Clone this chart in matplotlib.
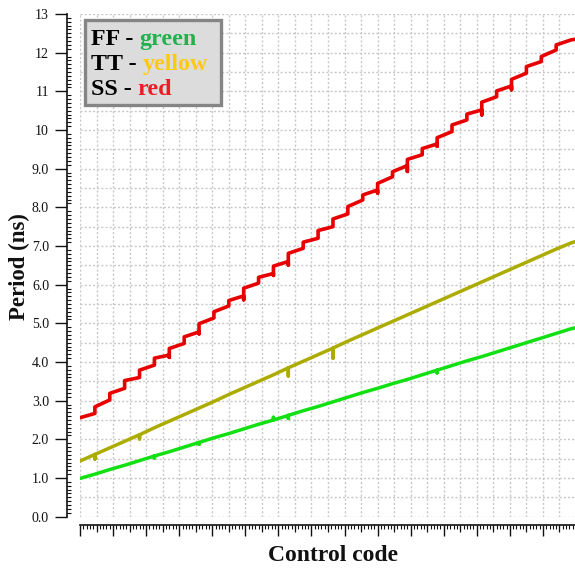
import numpy as np
import matplotlib
matplotlib.use("Agg")
import matplotlib.pyplot as plt
from matplotlib.patches import Rectangle
from matplotlib.ticker import MultipleLocator, FixedLocator, FixedFormatter
from matplotlib.transforms import offset_copy

# ---------------- data ----------------
codes_per_step = 4.5          # control-code width of one coarse step
code_max = 150

# SS (red): value at start / end of each coarse step
red_start = [2.56, 2.84, 3.19, 3.52, 3.79, 4.10, 4.35, 4.65, 4.99, 5.30, 5.59,
             5.91, 6.19, 6.48, 6.81, 7.10, 7.40, 7.70, 8.02, 8.32, 8.62, 8.92,
             9.24, 9.52, 9.80, 10.13, 10.41, 10.72, 11.01, 11.31, 11.64, 11.90, 12.20]
red_end = [2.67, 3.02, 3.32, 3.60, 3.92, 4.18, 4.48, 4.78, 5.14, 5.45, 5.71,
           6.04, 6.29, 6.60, 6.94, 7.20, 7.50, 7.83, 8.19, 8.45, 8.79, 9.08,
           9.36, 9.64, 9.96, 10.26, 10.52, 10.86, 11.14, 11.47, 11.77, 12.07, 12.33]
red_tail = 12.35
red_spikes = {6: 0.06, 8: 0.05, 11: 0.10, 13: 0.05, 14: 0.09, 20: 0.08,
              22: 0.15, 24: 0.06, 27: 0.13, 29: 0.10}

# TT (yellow) values at step boundaries
yellow_vals = [1.44, 1.61, 1.78, 1.95, 2.12, 2.30, 2.47, 2.64, 2.81, 2.98, 3.16,
               3.33, 3.50, 3.67, 3.85, 4.02, 4.19, 4.36, 4.54, 4.71, 4.88, 5.05,
               5.22, 5.39, 5.56, 5.73, 5.90, 6.07, 6.24, 6.41, 6.58, 6.75, 6.92, 7.08]
yellow_tail = 7.12
yellow_spikes = {1: 0.12, 4: 0.11, 14: 0.21, 17: 0.26}

# FF (green) values at step boundaries
green_vals = [0.99, 1.10, 1.22, 1.33, 1.45, 1.57, 1.68, 1.80, 1.92, 2.04, 2.15,
              2.27, 2.39, 2.50, 2.62, 2.74, 2.85, 2.97, 3.09, 3.21, 3.32, 3.44,
              3.55, 3.67, 3.79, 3.91, 4.03, 4.14, 4.26, 4.38, 4.50, 4.62, 4.74, 4.86]
green_tail = 4.89
green_spikes = {5: 0.05, 8: 0.05, 13: -0.07, 14: 0.08, 24: 0.07}

y_tick_values = list(range(14))
y_tick_labels = ["0.0", "1.0", "2.0", "3.0", "4.0", "5.0", "6.0", "7.0",
                 "8.0", "9.0", "10", "11", "12", "13"]

legend_rows = [("FF - ", "green", "#22b14c"),
               ("TT - ", "yellow", "#ffc90e"),
               ("SS - ", "red", "#ed1c24")]

SERIF = "Liberation Serif"


def staircase(starts, ends, tail, spikes):
    xs, ys = [], []
    n = len(starts)
    for k in range(n):
        b0 = k * codes_per_step
        b1 = (k + 1) * codes_per_step
        xs += [b0, b1]
        ys += [starts[k], ends[k]]
        if (k + 1) in spikes and k + 1 < n:
            xs.append(b1)
            ys.append(ends[k] - spikes[k + 1])
    xs.append(code_max)
    ys.append(tail)
    return xs, ys


def smooth(vals, tail, spikes):
    xs, ys = [], []
    for k, v in enumerate(vals):
        b = k * codes_per_step
        xs.append(b)
        ys.append(v)
        if k in spikes:
            xs += [b, b]
            ys += [v - spikes[k], v]
    xs.append(code_max)
    ys.append(tail)
    return xs, ys


# ---------------- figure ----------------
W, H = 575, 569
fig = plt.figure(figsize=(W / 100, H / 100), dpi=100)
ax = fig.add_axes([80 / W, 1 - 516.7 / H, 496 / W, 502.7 / H])
ax.set_xlim(0, code_max)
ax.set_ylim(0, 13)

# grid
ax.vlines(np.arange(0, code_max, 5), 0, 13, colors="#c8c8c8",
          linestyles=(0, (1.5, 1.5)), linewidth=1.0, zorder=0)
ax.hlines(np.arange(0, 13.01, 0.5), 0, code_max, colors="#c8c8c8",
          linestyles=(0, (1.5, 1.5)), linewidth=1.0, zorder=0)

gx, gy = smooth(green_vals, green_tail, green_spikes)
yx, yy = smooth(yellow_vals, yellow_tail, yellow_spikes)
rx, ry = staircase(red_start, red_end, red_tail, red_spikes)
ax.plot(gx, gy, color="#12e012", lw=2.5, zorder=3)
ax.plot(yx, yy, color="#acac00", lw=2.5, zorder=3)
ax.plot(rx, ry, color="#e80000", lw=2.6, zorder=3)

# spines
for s in ("top", "right"):
    ax.spines[s].set_visible(False)
ax.spines["left"].set_position(("outward", 9.4))
ax.spines["bottom"].set_position(("outward", 6.0))
for s in ("left", "bottom"):
    ax.spines[s].set_linewidth(1.2)
    ax.spines[s].set_color("#111111")

# y ticks
ax.yaxis.set_major_locator(FixedLocator(y_tick_values))
ax.yaxis.set_major_formatter(FixedFormatter(y_tick_labels))
ax.yaxis.set_minor_locator(MultipleLocator(0.1))
ax.tick_params(axis="y", which="major", direction="out", length=8.6, width=1.0,
               pad=4.3, labelsize=10, colors="#111111")
ax.tick_params(axis="y", which="minor", direction="in", length=3.2, width=0.8,
               colors="#111111")
for lab in ax.get_yticklabels():
    lab.set_fontfamily(SERIF)

# x ticks (no labels)
ax.xaxis.set_major_locator(MultipleLocator(10))
ax.xaxis.set_minor_locator(MultipleLocator(1))
ax.tick_params(axis="x", which="major", direction="out", length=8.0, width=1.0,
               labelbottom=False, colors="#111111")
ax.tick_params(axis="x", which="minor", direction="out", length=3.0, width=0.8,
               colors="#111111")
sec = ax.secondary_xaxis(-8.3 / 502.7)
sec.set_xticks(np.arange(5, code_max, 10))
sec.tick_params(axis="x", which="major", direction="out", length=5.0, width=0.9,
                labelbottom=False, colors="#111111")
sec.tick_params(axis="x", which="minor", length=0)
sec.spines["bottom"].set_visible(False)

# axis labels
fig.text(333 / W, 1 - 561 / H, "Control code", ha="center", va="baseline",
         fontsize=17, fontweight="bold", family=SERIF, color="#111111")
fig.text(19 / W, 1 - 267 / H, "Period (ns)", ha="center", va="center",
         rotation=90, fontsize=16.5, fontweight="bold", family=SERIF,
         color="#111111")

# legend box
fig.patches.append(Rectangle((84.5 / W, 1 - 105.5 / H), 136 / W, 85 / H,
                             transform=fig.transFigure, facecolor="#dcdcdc",
                             edgecolor="#858585", linewidth=2.4, zorder=5))
renderer = fig.canvas.get_renderer()
baselines = [45, 70, 95]
for (black, word, col), base in zip(legend_rows, baselines):
    t1 = fig.text(91 / W, 1 - base / H, black, ha="left", va="baseline",
                  fontsize=17.3, fontweight="bold", family=SERIF,
                  color="black", zorder=6)
    ext = t1.get_window_extent(renderer=renderer)
    fig.text(ext.x1 / W, 1 - base / H, word, ha="left", va="baseline",
             fontsize=17.3, fontweight="bold", family=SERIF, color=col,
             zorder=6)

fig.savefig("out.png", dpi=100)
